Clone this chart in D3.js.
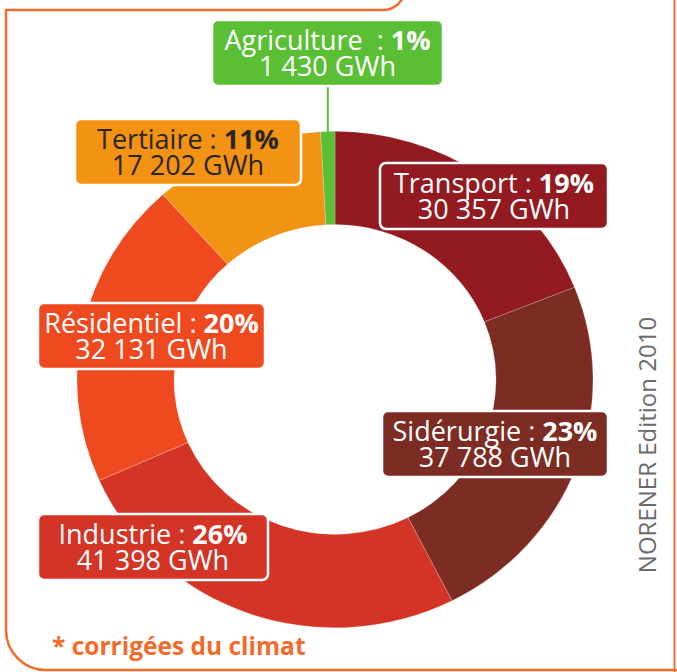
<!DOCTYPE html>
<html><head><meta charset="utf-8">
<script src="https://cdn.jsdelivr.net/npm/d3@7"></script>
<style>html,body{margin:0;padding:0;background:#fff;}svg{display:block;}</style>
</head><body>
<svg id="chart" width="677" height="672"></svg>
<script>
// ---- data ----
const categories = ["Transport", "Sidérurgie", "Industrie", "Résidentiel", "Tertiaire", "Agriculture"];
const valuesGWh  = [30357, 37788, 41398, 32131, 17202, 1430];
const percentLabels = ["19%", "23%", "26%", "20%", "11%", "1%"];
const colors = ["#931a21", "#7c2c23", "#d33425", "#ef4a1f", "#f39313", "#5bbf36"];
const textColors = ["#fff", "#fff", "#fff", "#fff", "#2b2520", "#fff"];
const footnote = "* corrigées du climat";
const sourceText = "NORENER Edition 2010";

// ---- label layout (box centre x, box top y) ----
const labelLayout = [
  {cx: 494, top: 163},
  {cx: 495, top: 411},
  {cx: 153, top: 514},
  {cx: 151.5, top: 303},
  {cx: 188, top: 119},
  {cx: 327.5, top: 20}
];
const boxW = [228, 226, 230, 227, 226, 231];

const svg = d3.select("#chart");
const orange = "#f26b2b";

// frame
svg.append("path")
  .attr("d", "M6,630 L6,10 L383,10 A22,22 0 0 0 405,-12")
  .attr("fill", "none").attr("stroke", orange).attr("stroke-width", 2.5);
svg.append("path")
  .attr("d", "M6,630 A40,40 0 0 0 46,670 L677,670")
  .attr("fill", "none").attr("stroke", orange).attr("stroke-width", 2.5);
svg.append("line").attr("x1", 674.5).attr("x2", 674.5).attr("y1", 0).attr("y2", 672)
  .attr("stroke", orange).attr("stroke-width", 2);

// donut
const data = categories.map((c, i) => ({name: c, value: valuesGWh[i], pct: percentLabels[i], i}));
const pie = d3.pie().value(d => d.value).sort(null).startAngle(0).endAngle(2 * Math.PI);
const arcs = pie(data);
const R = 258, r = 161;
const arc = d3.arc().innerRadius(r).outerRadius(R);
const cx = 335, cy = 379.5, sy = 0.962;
const g = svg.append("g").attr("transform", `translate(${cx},${cy}) scale(1,${sy})`);
g.selectAll("path").data(arcs).enter().append("path")
  .attr("d", arc)
  .attr("fill", d => colors[d.data.i])
  .attr("stroke", "rgba(255,255,255,0.35)").attr("stroke-width", 0.6);

// agriculture connector line
const agri = arcs[5];
const midA = (agri.startAngle + agri.endAngle) / 2;
const lineX = cx + (R - 2) * Math.sin(midA);
const lineY = cy - (R - 2) * Math.cos(midA) * sy;
svg.append("line")
  .attr("x1", lineX).attr("x2", lineX)
  .attr("y1", labelLayout[5].top + 66).attr("y2", lineY + 4)
  .attr("stroke", colors[5]).attr("stroke-width", 2);

// labels
const fmt = d3.formatLocale({decimal: ",", thousands: " ", grouping: [3], currency: ["", ""]}).format(",d");
const fontFam = "'Open Sans', 'Noto Sans', sans-serif";
const fs = 27;
data.forEach((d, i) => {
  const L = labelLayout[i];
  const w = boxW[i], h = 66;
  const lg = svg.append("g");
  lg.append("rect")
    .attr("x", L.cx - w / 2).attr("y", L.top).attr("width", w).attr("height", h)
    .attr("rx", 6).attr("fill", colors[i]).attr("stroke", "#fff").attr("stroke-width", 2.5);
  const t1 = lg.append("text").attr("x", L.cx).attr("y", L.top + 29.5)
    .attr("text-anchor", "middle").attr("font-family", fontFam).attr("font-size", fs)
    .attr("fill", textColors[i]).attr("style", "white-space:pre");
  t1.append("tspan").text(d.name + (d.name === "Agriculture" ? "  : " : " : "));
  t1.append("tspan").attr("font-weight", "bold").text(d.pct);
  lg.append("text").attr("x", L.cx).attr("y", L.top + 56)
    .attr("text-anchor", "middle").attr("font-family", fontFam).attr("font-size", fs)
    .attr("fill", textColors[i])
    .text(fmt(d.value) + " GWh");
});

// footnote
svg.append("text").attr("x", 52).attr("y", 655)
  .attr("font-family", fontFam).attr("font-weight", "bold").attr("font-size", 24.5)
  .attr("fill", orange).text(footnote);

// vertical source
svg.append("text")
  .attr("transform", "translate(656,445) rotate(-90)")
  .attr("text-anchor", "middle")
  .attr("font-family", fontFam).attr("font-size", 24)
  .attr("fill", "#6b6b6b").text(sourceText);
</script>
</body></html>
